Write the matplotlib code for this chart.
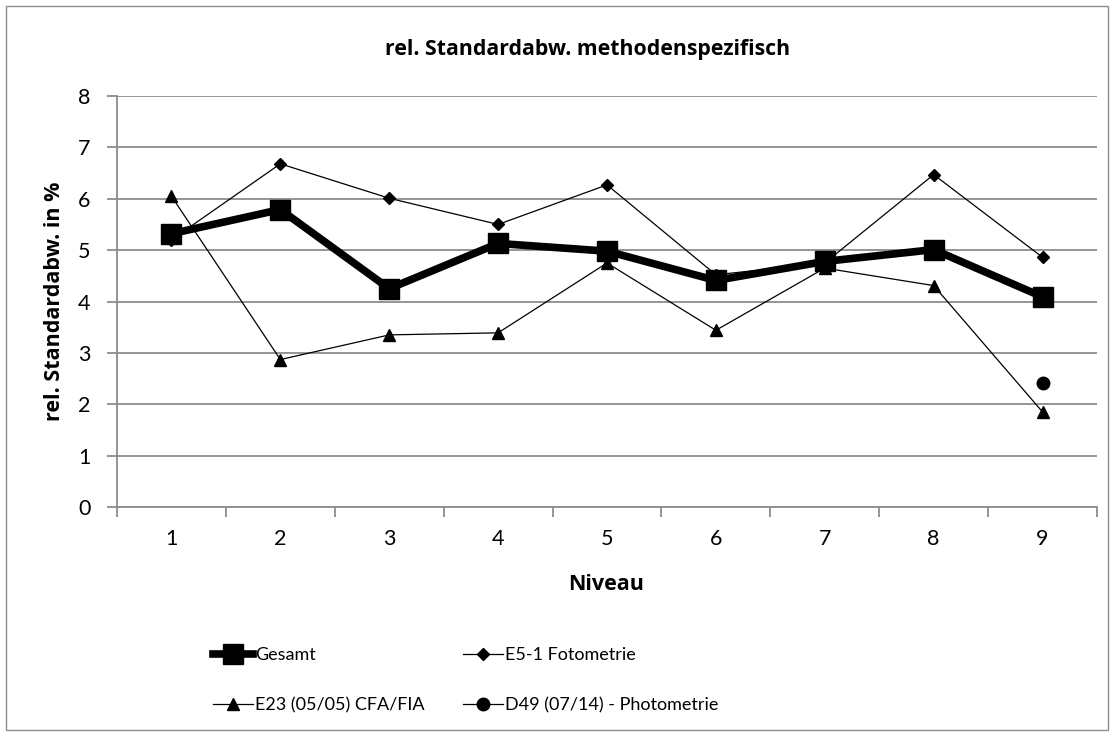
import matplotlib
matplotlib.use("Agg")
import matplotlib.pyplot as plt
from matplotlib.patches import Rectangle
from matplotlib.lines import Line2D

plt.rcParams['font.family'] = ['Lato', 'DejaVu Sans']
BOLD = ['Open Sans', 'DejaVu Sans']

niveau = [1, 2, 3, 4, 5, 6, 7, 8, 9]
gesamt = [5.32, 5.79, 4.25, 5.13, 4.98, 4.41, 4.78, 5.01, 4.09]
e5_1 = [5.2, 6.68, 6.01, 5.50, 6.27, 4.52, 4.75, 6.47, 4.86]
e23 = [6.05, 2.87, 3.35, 3.39, 4.75, 3.44, 4.65, 4.31, 1.85]
d49_x = [9]
d49 = [2.42]

title = "rel. Standardabw. methodenspezifisch"
ylabel = "rel. Standardabw. in %"
xlabel = "Niveau"
yticks = [0, 1, 2, 3, 4, 5, 6, 7, 8]

fig = plt.figure(figsize=(11.14, 7.36), dpi=100)
fig.patch.set_facecolor('white')
fig.patches.append(Rectangle((6/1114, 6/736), 1 - 12/1114, 1 - 12/736,
                             transform=fig.transFigure, fill=False,
                             edgecolor='#8c8c8c', linewidth=1.0))

ax = fig.add_axes([117/1114, 1 - 507/736, (1097 - 117)/1114, (507 - 96)/736])
grid_c = '#8c8c8c'
ax.set_xlim(0.5, 9.5)
ax.set_ylim(0, 8)
ax.set_yticks(yticks)
ax.set_yticklabels([str(v) for v in yticks], fontsize=15.5)
ax.set_xticks(niveau)
ax.set_xticklabels([str(v) for v in niveau], fontsize=15.5)
ax.set_xticks([x + 0.5 for x in range(0, 10)], minor=True)
ax.tick_params(axis='x', which='major', length=0, pad=16)
ax.tick_params(axis='x', which='minor', length=7, color=grid_c, width=1.3)
ax.tick_params(axis='y', length=7, color=grid_c, width=1.3, pad=12)
ax.yaxis.grid(True, color=grid_c, linewidth=1.3)
ax.set_axisbelow(True)
for s in ['top', 'right']:
    ax.spines[s].set_visible(False)
for s in ['left', 'bottom']:
    ax.spines[s].set_color(grid_c)
    ax.spines[s].set_linewidth(1.3)

ax.plot(niveau, e5_1, color='black', linewidth=0.9, marker='D', markersize=6.5,
        label='E5-1 Fotometrie', zorder=3)
ax.plot(niveau, e23, color='black', linewidth=0.9, marker='^', markersize=9,
        label='E23 (05/05) CFA/FIA', zorder=3)
ax.plot(d49_x, d49, color='black', linewidth=0.9, marker='o', markersize=9,
        label='D49 (07/14) - Photometrie', zorder=3)
ax.plot(niveau, gesamt, color='black', linewidth=5.5, marker='s', markersize=14,
        solid_joinstyle='miter', label='Gesamt', zorder=4)

fig.text(588/1114, 1 - 50/736, title, ha='center', va='center', fontsize=15.3,
         fontweight='bold', family=BOLD)
fig.text(55/1114, 1 - 301/736, ylabel, ha='center', va='center', rotation=90,
         fontsize=15.5, fontweight='bold', family=BOLD)
fig.text(606/1114, 1 - 584/736, xlabel, ha='center', va='center', fontsize=15.5,
         fontweight='bold', family=BOLD)

h_gesamt = Line2D([], [], color='black', linewidth=5.5, marker='s', markersize=14)
h_e5 = Line2D([], [], color='black', linewidth=0.9, marker='D', markersize=6.5)
h_e23 = Line2D([], [], color='black', linewidth=0.9, marker='^', markersize=9)
h_d49 = Line2D([], [], color='black', linewidth=0.9, marker='o', markersize=9)
handles = [h_gesamt, h_e23, h_e5, h_d49]
labels = ['Gesamt', 'E23 (05/05) CFA/FIA', 'E5-1 Fotometrie', 'D49 (07/14) - Photometrie']
leg = fig.legend(handles, labels, loc='upper left', ncol=2, frameon=False,
                 bbox_to_anchor=(213/1114, 1 - 647/736), fontsize=13,
                 handlelength=2.2, handletextpad=0.15, columnspacing=2.1,
                 labelspacing=1.9, borderaxespad=0, borderpad=0)

fig.savefig('out.png', dpi=100)
